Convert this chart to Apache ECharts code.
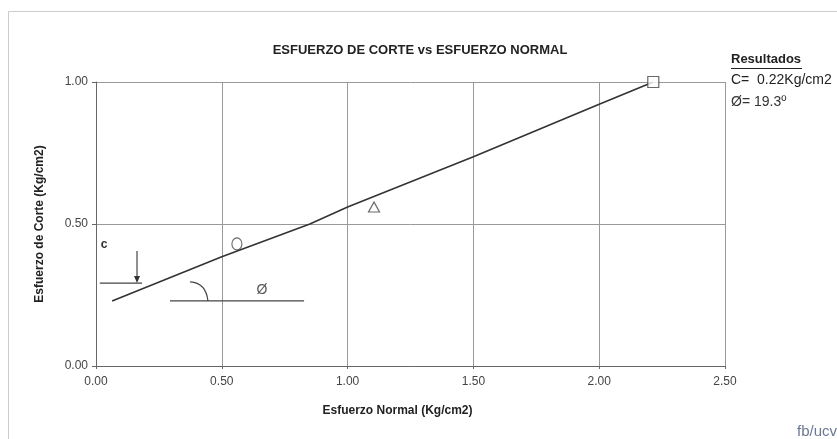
<!DOCTYPE html>
<html>
<head>
<meta charset="utf-8">
<script src="https://cdn.jsdelivr.net/npm/echarts@6/dist/echarts.min.js"></script>
<style>html,body{margin:0;padding:0;background:#fff}#c{width:837px;height:439px}</style>
</head>
<body>
<div id="c"></div>
<script>
// ---- data ----
const title = 'ESFUERZO DE CORTE vs ESFUERZO NORMAL';
const xName = 'Esfuerzo Normal (Kg/cm2)';
const yName = 'Esfuerzo de Corte (Kg/cm2)';
const xTicks = [0, 0.5, 1.0, 1.5, 2.0, 2.5];
const yTicks = [0, 0.5, 1.0];
// envelope line (as drawn)
const envelopeX = [0.064, 0.5, 0.85, 1.0, 1.5, 2.0, 2.215];
const envelopeY = [0.229, 0.385, 0.5, 0.56, 0.737, 0.922, 1.0];
// test points
const circlePt = [0.56, 0.43];
const trianglePt = [1.105, 0.56];
const squarePt = [2.215, 1.0];
const resultsTitle = 'Resultados';
const resultC = 'C=  0.22Kg/cm2';
const resultPhi = 'Ø= 19.3º';

const chart = echarts.init(document.getElementById('c'));
const font = 'Liberation Sans, Arial, sans-serif';
const envelope = envelopeX.map((x, i) => [x, envelopeY[i]]);

chart.setOption({
  animation: false,
  backgroundColor: '#fff',
  title: {
    text: title, left: 415, top: 39, textAlign: 'center',
    textStyle: { fontFamily: font, fontSize: 13, fontWeight: 'bold', color: '#222' }
  },
  grid: { left: 96, right: 112, top: 82, bottom: 73, containLabel: false },
  xAxis: {
    type: 'value', min: 0, max: 2.5, interval: 0.5,
    name: xName, nameLocation: 'middle', nameGap: 39,
    nameTextStyle: { fontFamily: font, fontSize: 12, fontWeight: 'bold', color: '#222', padding: [0, 26, 0, 0] },
    axisLine: { show: true, lineStyle: { color: '#666', width: 1 } },
    axisTick: { show: true, length: 3, inside: false, lineStyle: { color: '#666' } },
    axisLabel: { fontFamily: font, fontSize: 12, color: '#444', margin: 10, formatter: v => v.toFixed(2) },
    splitLine: { show: true, lineStyle: { color: '#999', width: 1 } }
  },
  yAxis: {
    type: 'value', min: 0, max: 1, interval: 0.5,
    name: yName, nameLocation: 'middle', nameGap: 50, nameRotate: 90,
    nameTextStyle: { fontFamily: font, fontSize: 12, fontWeight: 'bold', color: '#222' },
    axisLine: { show: true, lineStyle: { color: '#666', width: 1 } },
    axisTick: { show: true, length: 4, lineStyle: { color: '#666' } },
    axisLabel: { fontFamily: font, fontSize: 12, color: '#444', margin: 8, formatter: v => v.toFixed(2) },
    splitLine: { show: true, lineStyle: { color: '#999', width: 1 } }
  },
  series: [
    {
      type: 'line', data: envelope, symbol: 'none', smooth: false,
      lineStyle: { color: '#333', width: 1.6 }, z: 3
    },
    {
      type: 'scatter', data: [circlePt], symbol: 'circle', symbolSize: [10, 12],
      itemStyle: { color: '#fff', borderColor: '#444', borderWidth: 1.2 }, z: 4
    },
    {
      type: 'scatter', data: [trianglePt], symbol: 'triangle', symbolSize: [11, 10],
      itemStyle: { color: '#fff', borderColor: '#444', borderWidth: 1.2 }, z: 4
    },
    {
      type: 'scatter', data: [squarePt], symbol: 'rect', symbolSize: 11,
      itemStyle: { color: '#fff', borderColor: '#444', borderWidth: 1.2 }, z: 4
    }
  ]
});

function P(x, y) { return chart.convertToPixel({ gridIndex: 0 }, [x, y]); }
const cl0 = P(0.015, 0.292), cl1 = P(0.183, 0.292);
const ar0 = P(0.163, 0.405), ar1 = P(0.163, 0.292);
const ab0 = P(0.294, 0.229), ab1 = P(0.827, 0.229);
const arc0 = P(0.374, 0.296), arc1 = P(0.445, 0.229);
const cLab = P(0.032, 0.426), phiLab = P(0.66, 0.268);

chart.setOption({
  graphic: [
    { type: 'rect', shape: { x: 8.5, y: 11.5, width: 900, height: 500 }, style: { fill: 'none', stroke: '#ccc', lineWidth: 1 }, silent: true, z: -1 },
    { type: 'line', shape: { x1: cl0[0], y1: cl0[1], x2: cl1[0], y2: cl1[1] }, style: { stroke: '#444', lineWidth: 1.2 } },
    { type: 'line', shape: { x1: ar0[0], y1: ar0[1], x2: ar1[0], y2: ar1[1] - 5 }, style: { stroke: '#444', lineWidth: 1.2 } },
    { type: 'polygon', shape: { points: [[ar1[0] - 3, ar1[1] - 7], [ar1[0] + 3, ar1[1] - 7], [ar1[0], ar1[1]]] }, style: { fill: '#333' } },
    { type: 'line', shape: { x1: ab0[0], y1: ab0[1], x2: ab1[0], y2: ab1[1] }, style: { stroke: '#444', lineWidth: 1.2 } },
    { type: 'bezierCurve', shape: { x1: arc0[0], y1: arc0[1], cpx1: arc1[0] - 2, cpy1: arc0[1] + 1, x2: arc1[0], y2: arc1[1] }, style: { stroke: '#444', lineWidth: 1.2, fill: 'none' } },
    { type: 'text', x: cLab[0], y: cLab[1], style: { text: 'c', font: 'bold 12px ' + font, fill: '#333', align: 'center', verticalAlign: 'middle' } },
    { type: 'text', x: phiLab[0], y: phiLab[1], style: { text: 'Ø', font: '14px ' + font, fill: '#555', align: 'center', verticalAlign: 'middle' } },
    { type: 'text', left: 731, top: 53, style: { text: resultsTitle, font: 'bold 13px ' + font, fill: '#222' } },
    { type: 'line', shape: { x1: 731, y1: 68.5, x2: 802, y2: 68.5 }, style: { stroke: '#222', lineWidth: 1 } },
    { type: 'text', left: 731, top: 73, style: { text: resultC, font: '14px ' + font, fill: '#222' } },
    { type: 'text', left: 731, top: 95, style: { text: resultPhi, font: '14px ' + font, fill: '#333' } },
    { type: 'text', left: 797, top: 424, style: { text: 'fb/ucv', font: '15px ' + font, fill: '#6b7894' } }
  ]
});
</script>
</body>
</html>
